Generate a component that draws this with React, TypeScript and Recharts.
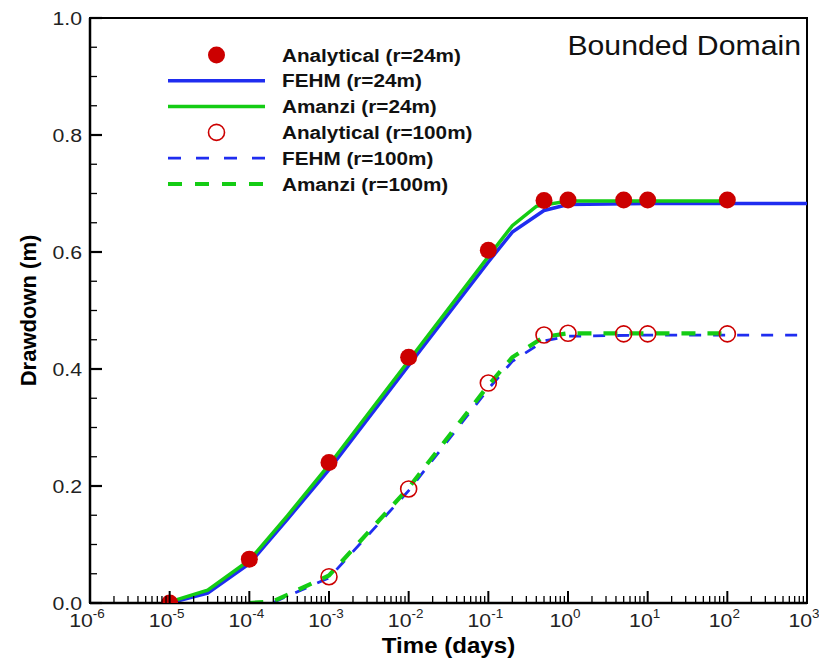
import React from 'react';
import { ComposedChart, Line, Scatter, XAxis, YAxis, ReferenceArea, Legend } from 'recharts';

// ---------- data ----------
const analytical24 = [
  { t: 1e-5, s: 0.0 }, { t: 1e-4, s: 0.075 }, { t: 1e-3, s: 0.24 }, { t: 1e-2, s: 0.42 },
  { t: 1e-1, s: 0.603 }, { t: 0.5, s: 0.688 }, { t: 1, s: 0.689 }, { t: 5, s: 0.689 },
  { t: 10, s: 0.689 }, { t: 100, s: 0.689 },
];
const fehm24 = [
  { t: 1e-5, s: 0.0 }, { t: 3e-5, s: 0.017 }, { t: 1e-4, s: 0.067 }, { t: 3e-4, s: 0.143 },
  { t: 1e-3, s: 0.228 }, { t: 1e-2, s: 0.406 }, { t: 1e-1, s: 0.583 }, { t: 0.2, s: 0.634 },
  { t: 0.5, s: 0.671 }, { t: 1, s: 0.681 }, { t: 10, s: 0.683 }, { t: 100, s: 0.683 }, { t: 1000, s: 0.683 },
];
const amanzi24 = [
  { t: 1e-5, s: 0.002 }, { t: 3e-5, s: 0.022 }, { t: 1e-4, s: 0.073 }, { t: 3e-4, s: 0.149 },
  { t: 1e-3, s: 0.236 }, { t: 1e-2, s: 0.414 }, { t: 1e-1, s: 0.592 }, { t: 0.2, s: 0.645 },
  { t: 0.4, s: 0.678 }, { t: 1, s: 0.687 }, { t: 10, s: 0.687 }, { t: 100, s: 0.687 },
];
const analytical100 = [
  { t: 1e-3, s: 0.045 }, { t: 1e-2, s: 0.195 }, { t: 1e-1, s: 0.376 }, { t: 0.5, s: 0.458 },
  { t: 1, s: 0.461 }, { t: 5, s: 0.46 }, { t: 10, s: 0.46 }, { t: 100, s: 0.46 },
];
const fehm100 = [
  { t: 1e-4, s: 0.0 }, { t: 2e-4, s: 0.001 }, { t: 1e-3, s: 0.043 }, { t: 1e-2, s: 0.192 },
  { t: 0.1, s: 0.366 }, { t: 0.2, s: 0.413 }, { t: 0.5, s: 0.448 }, { t: 1, s: 0.456 },
  { t: 10, s: 0.458 }, { t: 100, s: 0.458 }, { t: 1000, s: 0.458 },
];
const amanzi100 = [
  { t: 1e-4, s: 0.0 }, { t: 2e-4, s: 0.003 }, { t: 1e-3, s: 0.047 }, { t: 1e-2, s: 0.197 },
  { t: 0.1, s: 0.372 }, { t: 0.2, s: 0.42 }, { t: 0.5, s: 0.455 }, { t: 1, s: 0.461 },
  { t: 10, s: 0.461 }, { t: 100, s: 0.461 },
];

const xDecades = [-6, -5, -4, -3, -2, -1, 0, 1, 2, 3];
const xMinorMultipliers = [2, 3, 4, 5, 6, 7, 8, 9];
const yMajorTicks = [0, 0.2, 0.4, 0.6, 0.8, 1.0];
const yMinorTicks = [0.05, 0.1, 0.15, 0.25, 0.3, 0.35, 0.45, 0.5, 0.55, 0.65, 0.7, 0.75, 0.85, 0.9, 0.95];

const legendLabels = [
  'Analytical (r=24m)', 'FEHM (r=24m)', 'Amanzi (r=24m)',
  'Analytical (r=100m)', 'FEHM (r=100m)', 'Amanzi (r=100m)',
];
const xTitle = 'Time (days)';
const yTitle = 'Drawdown (m)';
const annotation = 'Bounded Domain';

// ---------- styles ----------
const FONT = '"Liberation Sans", Arial, Helvetica, sans-serif';
const SX = 1.12;
const RED = '#cc0000';
const BLUE = '#1f2df0';
const GREEN = '#14cc14';

const xTicks: number[] = [];
xDecades.forEach((d) => {
  xTicks.push(Math.pow(10, d));
  if (d < 3) xMinorMultipliers.forEach((m) => xTicks.push(m * Math.pow(10, d)));
});
const yTicks = [...yMajorTicks, ...yMinorTicks].sort((a, b) => a - b);

const isMajorX = (v: number) => {
  const e = Math.round(Math.log10(v));
  return Math.abs(v / Math.pow(10, e) - 1) < 1e-6;
};
const isMajorY = (v: number) => yMajorTicks.some((m) => Math.abs(m - v) < 1e-6);

const XTick = (props: any) => {
  const { x, y, payload } = props;
  const v = payload.value;
  const major = isMajorX(v);
  const e = Math.round(Math.log10(v));
  return (
    <g>
      <line x1={x} x2={x} y1={y} y2={y - (major ? 12 : 7)} stroke="#000" strokeWidth={major ? 2 : 1.3} />
      {major && (
        <text transform={`translate(${x - 3},${y + 24}) scale(${SX},1)`} textAnchor="middle"
          fontFamily={FONT} fontSize={19} fill="#222">
          10<tspan dy={-9} fontSize={12}>{e}</tspan>
        </text>
      )}
    </g>
  );
};

const YTick = (props: any) => {
  const { x, y, payload } = props;
  const v = payload.value;
  const major = isMajorY(v);
  return (
    <g>
      <line x1={x} x2={x + (major ? 12 : 7)} y1={y} y2={y} stroke="#000" strokeWidth={major ? 2.2 : 1.3} />
      {major && (
        <text transform={`translate(${x - 8},${y + 7}) scale(${SX},1)`} textAnchor="end"
          fontFamily={FONT} fontSize={19} fill="#222">
          {v.toFixed(1)}
        </text>
      )}
    </g>
  );
};

const FilledDot = (p: any) => <circle cx={p.cx} cy={p.cy} r={8.5} fill={RED} />;
const OpenDot = (p: any) => <circle cx={p.cx} cy={p.cy} r={8} fill="none" stroke={RED} strokeWidth={1.6} />;

const legendStyle = [
  { kind: 'dot' },
  { kind: 'line', color: BLUE, width: 3.5, dash: undefined },
  { kind: 'line', color: GREEN, width: 3.5, dash: undefined },
  { kind: 'open' },
  { kind: 'line', color: BLUE, width: 2.8, dash: '13 15' },
  { kind: 'line', color: GREEN, width: 4.2, dash: '14 13' },
];

const LegendBox = () => (
  <svg width={340} height={170}>
    {legendLabels.map((label, i) => {
      const cy = 15 + i * 25.8;
      const st: any = legendStyle[i];
      return (
        <g key={label}>
          {st.kind === 'dot' && <circle cx={66.5} cy={cy} r={8.5} fill={RED} />}
          {st.kind === 'open' && <circle cx={66.5} cy={cy} r={8} fill="none" stroke={RED} strokeWidth={1.6} />}
          {st.kind === 'line' && (
            <line x1={18} x2={115} y1={cy} y2={cy} stroke={st.color} strokeWidth={st.width} strokeDasharray={st.dash} />
          )}
          <text transform={`translate(132,${cy + 6.5}) scale(${SX},1)`} fontFamily={FONT} fontSize={18.5}
            fontWeight="bold" fill="#111">
            {label}
          </text>
        </g>
      );
    })}
  </svg>
);

const XTitle = (p: any) => {
  const vb = p.viewBox;
  return (
    <g>
      <text transform={`translate(${vb.x + vb.width / 2},${vb.y + 50}) scale(${SX},1)`} textAnchor="middle"
        fontFamily={FONT} fontSize={21.5} fontWeight="bold" fill="#000">
        {xTitle}
      </text>
      <text transform={`translate(801,55) scale(${SX},1)`} textAnchor="end" fontFamily={FONT} fontSize={27} fill="#111">
        {annotation}
      </text>
    </g>
  );
};

const YTitle = (p: any) => {
  const vb = p.viewBox;
  const cy = vb.y + vb.height / 2;
  return (
    <text transform={`translate(36,${cy}) rotate(-90)`} textAnchor="middle" fontFamily={FONT} fontSize={22}
      fontWeight="bold" fill="#000">
      {yTitle}
    </text>
  );
};

export default function App() {
  return (
    <div style={{ position: 'absolute', left: 0, top: 0, width: 819, height: 659, background: '#fff' }}>
      <ComposedChart width={819} height={659} margin={{ top: 18, right: 12, bottom: 0, left: 0 }}>
        <XAxis dataKey="t" type="number" scale="log" domain={[1e-6, 1e3]} allowDataOverflow ticks={xTicks}
          interval={0} tick={<XTick />} tickLine={false} tickSize={0} tickMargin={0} height={56}
          axisLine={{ stroke: '#000', strokeWidth: 2.5 }} label={{ content: <XTitle /> }} />
        <YAxis dataKey="s" type="number" domain={[0, 1]} allowDataOverflow ticks={yTicks} interval={0}
          tick={<YTick />} tickLine={false} tickSize={0} tickMargin={0} width={90}
          axisLine={{ stroke: '#000', strokeWidth: 2.5 }} label={{ content: <YTitle /> }} />
        <ReferenceArea x1={1e-6} x2={1e3} y1={0} y2={1} fill="none" stroke="#000" strokeWidth={2} />
        <Legend layout="horizontal" verticalAlign="middle" align="center" content={<LegendBox />}
          wrapperStyle={{ position: 'absolute', left: 150, top: 40, width: 340, height: 170 }} />
        <Scatter name="Analytical (r=24m)" data={analytical24} dataKey="s" shape={<FilledDot />} isAnimationActive={false} />
        <Scatter name="Analytical (r=100m)" data={analytical100} dataKey="s" shape={<OpenDot />} isAnimationActive={false} />
        <Line name="FEHM (r=24m)" data={fehm24} dataKey="s" stroke={BLUE} strokeWidth={3.5} dot={false} type="linear" isAnimationActive={false} />
        <Line name="FEHM (r=100m)" data={fehm100} dataKey="s" stroke={BLUE} strokeWidth={2.8} strokeDasharray="12 12" dot={false} type="linear" isAnimationActive={false} />
        <Line name="Amanzi (r=24m)" data={amanzi24} dataKey="s" stroke={GREEN} strokeWidth={3.5} dot={false} type="linear" isAnimationActive={false} />
        <Line name="Amanzi (r=100m)" data={amanzi100} dataKey="s" stroke={GREEN} strokeWidth={4.2} strokeDasharray="14 12" dot={false} type="linear" isAnimationActive={false} />
      </ComposedChart>
    </div>
  );
}
